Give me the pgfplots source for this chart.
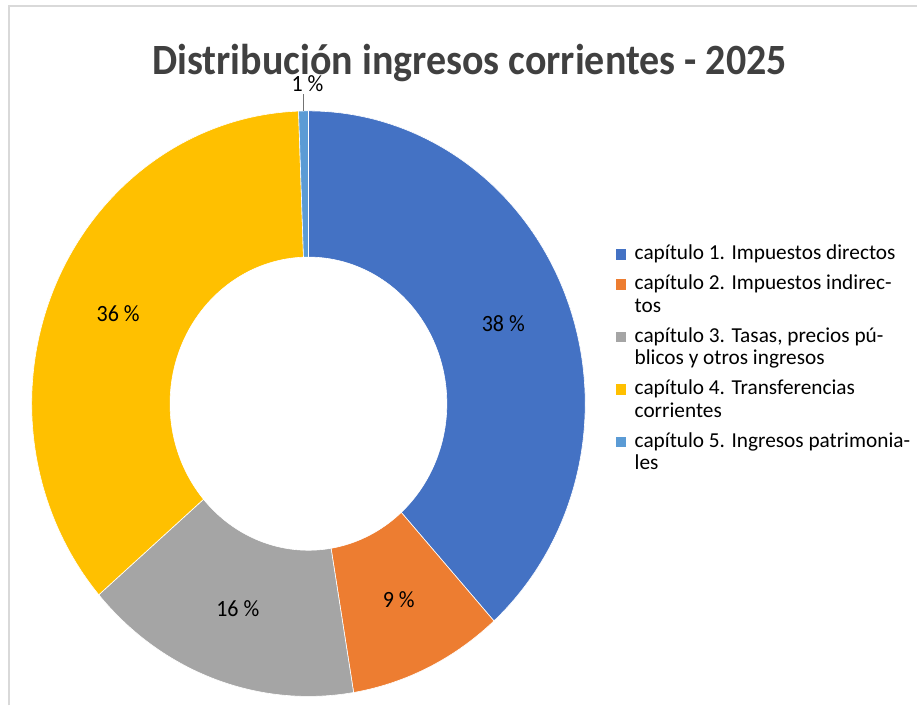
\documentclass[border=0pt]{standalone}
\usepackage{fontspec}
\setmainfont{Carlito}
\usepackage{pgfplots}
\pgfplotsset{compat=1.18}
\usepackage{pgfplotstable}
\definecolor{cA}{HTML}{4472C4}
\definecolor{cB}{HTML}{ED7D31}
\definecolor{cC}{HTML}{A5A5A5}
\definecolor{cD}{HTML}{FFC000}
\definecolor{cE}{HTML}{5B9BD5}
\definecolor{titlegray}{HTML}{404040}
\definecolor{framegray}{HTML}{D9D9D9}

\pgfplotstableread{
share
38.31
9.08
16.29
35.75
0.57
}\sharetable

\newcommand\lbl{\fontsize{22}{26}\selectfont}
\newcommand\first[1]{\rule{0pt}{23.25pt}#1}
\newcommand\cont[1]{\rule{0pt}{15.75pt}#1}

\begin{document}
\begin{tikzpicture}
\pgfplotstablegetelem{0}{share}\of\sharetable \let\vA\pgfplotsretval
\pgfplotstablegetelem{1}{share}\of\sharetable \let\vB\pgfplotsretval
\pgfplotstablegetelem{2}{share}\of\sharetable \let\vC\pgfplotsretval
\pgfplotstablegetelem{3}{share}\of\sharetable \let\vD\pgfplotsretval
\pgfplotstablegetelem{4}{share}\of\sharetable \let\vE\pgfplotsretval
\pgfmathsetmacro\aA{3.6*\vA}
\pgfmathsetmacro\aB{\aA+3.6*\vB}
\pgfmathsetmacro\aC{\aB+3.6*\vC}
\pgfmathsetmacro\aD{\aC+3.6*\vD}
\pgfmathsetmacro\aE{\aD+3.6*\vE}
\def\cx{308.7}\def\cy{302}\def\rx{277}\def\ry{293}\def\ix{138.5}\def\iy{146.7}
\begin{axis}[
  width=918pt, height=706pt, scale only axis,
  xmin=0, xmax=918, ymin=0, ymax=706,
  hide axis, clip=false,
  legend style={at={(axis cs:616,469.25)}, anchor=north west, draw=none, fill=none,
    inner sep=0pt, row sep=0pt, column sep=9pt,
    font=\fontsize{21.3}{22.5}\selectfont,
    nodes={inner sep=0pt, text depth=6.75pt}, cells={anchor=base west}},
  legend image code/.code={\fill[#1] (0pt,0pt) rectangle (10pt,10.5pt);},
]
\path (axis cs:0,0) rectangle (axis cs:918,706);
% frame
\addplot[forget plot, draw=framegray, line width=1.5pt] coordinates {(9,0) (9,700) (918,700)};
% slices
\addplot[forget plot, fill=cA, draw=white, line width=0.6pt, domain=0:\aA, samples=120]
  ({\cx+\rx*sin(x)},{\cy+\ry*cos(x)}) -- (axis cs:\cx,\cy) -- cycle;
\addplot[forget plot, fill=cB, draw=white, line width=0.6pt, domain=\aA:\aB, samples=40]
  ({\cx+\rx*sin(x)},{\cy+\ry*cos(x)}) -- (axis cs:\cx,\cy) -- cycle;
\addplot[forget plot, fill=cC, draw=white, line width=0.6pt, domain=\aB:\aC, samples=60]
  ({\cx+\rx*sin(x)},{\cy+\ry*cos(x)}) -- (axis cs:\cx,\cy) -- cycle;
\addplot[forget plot, fill=cD, draw=white, line width=0.6pt, domain=\aC:\aD, samples=120]
  ({\cx+\rx*sin(x)},{\cy+\ry*cos(x)}) -- (axis cs:\cx,\cy) -- cycle;
\addplot[forget plot, fill=cE, draw=white, line width=0.6pt, domain=\aD:\aE, samples=5]
  ({\cx+\rx*sin(x)},{\cy+\ry*cos(x)}) -- (axis cs:\cx,\cy) -- cycle;
% hole
\addplot[forget plot, fill=white, draw=white, line width=0.6pt, domain=0:360, samples=200]
  ({\cx+\ix*sin(x)},{\cy+\iy*cos(x)}) -- cycle;
% leader line
\addplot[forget plot, draw=black!55, line width=0.8pt] coordinates {(304,595) (304,612)};
% legend
\addlegendimage{fill=cA, draw=none}
\addlegendentry{\first{capítulo 1. Impuestos directos}}
\addlegendimage{fill=cB, draw=none}
\addlegendentry{\first{capítulo 2. Impuestos indirec-}}
\addlegendimage{empty legend}
\addlegendentry{\cont{tos}}
\addlegendimage{fill=cC, draw=none}
\addlegendentry{\first{capítulo 3. Tasas, precios pú-}}
\addlegendimage{empty legend}
\addlegendentry{\cont{blicos y otros ingresos}}
\addlegendimage{fill=cD, draw=none}
\addlegendentry{\first{capítulo 4. Transferencias}}
\addlegendimage{empty legend}
\addlegendentry{\cont{corrientes}}
\addlegendimage{fill=cE, draw=none}
\addlegendentry{\first{capítulo 5. Ingresos patrimonia-}}
\addlegendimage{empty legend}
\addlegendentry{\cont{les}}
% labels
\node[anchor=base, font=\fontsize{40}{46}\selectfont\bfseries, text=titlegray, inner sep=0pt, yscale=1.08] at (axis cs:470,631) {Distribución ingresos corrientes - 2025};
\node[anchor=base, font=\lbl, inner sep=0pt, yscale=1.06] at (axis cs:503.7,374.3) {38 \%};
\node[anchor=base, font=\lbl, inner sep=0pt, yscale=1.06] at (axis cs:399,98) {9 \%};
\node[anchor=base, font=\lbl, inner sep=0pt, yscale=1.06] at (axis cs:238,89) {16 \%};
\node[anchor=base, font=\lbl, inner sep=0pt, yscale=1.06] at (axis cs:118.3,384) {36 \%};
\node[anchor=base, font=\lbl, inner sep=0pt, yscale=1.06] at (axis cs:307.7,614) {1 \%};
\end{axis}
\end{tikzpicture}
\end{document}
